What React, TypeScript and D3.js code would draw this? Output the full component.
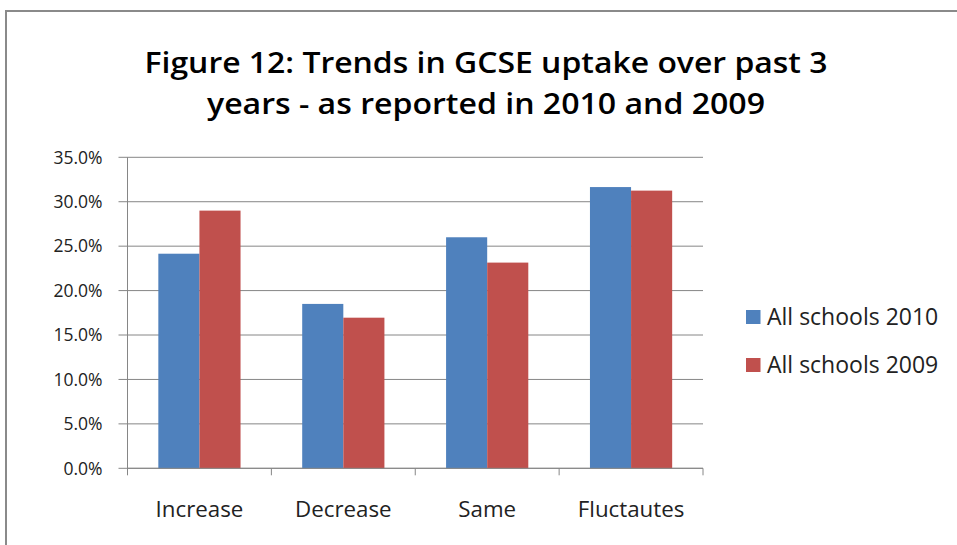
import React from "react";
import * as d3 from "d3";

const categories = ["Increase", "Decrease", "Same", "Fluctautes"];
const seriesNames = ["All schools 2010", "All schools 2009"];
const values2010 = [24.15, 18.5, 26.0, 31.65];
const values2009 = [29.0, 16.95, 23.15, 31.25];
const yTicks = [0, 5, 10, 15, 20, 25, 30, 35];
const colors = ["#4F81BD", "#C0504D"];
const titleLines = ["Figure 12: Trends in GCSE uptake over past 3", "years - as reported in 2010 and 2009"];

export default function App() {
  const W = 957, H = 545;
  const left = 127.5, right = 703, top = 157.3, bottom = 468.3;
  const x = d3.scaleBand<string>().domain(categories).range([left, right]).paddingInner(0).paddingOuter(0);
  const y = d3.scaleLinear().domain([0, 35]).range([bottom, top]);
  const bw = x.bandwidth();
  const barW = bw / 3.5;
  const series = [values2010, values2009];
  const font = "'Open Sans', sans-serif";
  const grid = "#868686";
  const titleWidths = [683, 558];
  return (
    <svg width={W} height={H} style={{ position: "absolute", left: 0, top: 0, background: "#fff" }}>
      <rect x={6} y={11} width={W + 20} height={H + 20} fill="#fff" stroke="#8a8a8a" strokeWidth={2} />
      {titleLines.map((t, i) => (
        <text key={i} x={486} y={73 + i * 41} textAnchor="middle" fontFamily={font} fontWeight={600} fontSize={29}
          textLength={titleWidths[i]} lengthAdjust="spacingAndGlyphs" fill="#000">{t}</text>
      ))}
      {yTicks.map((t) => (
        <g key={t}>
          <line x1={left - 9} x2={right} y1={y(t)} y2={y(t)} stroke={grid} strokeWidth={1} />
          <text x={102.5} y={y(t) + 6.3} textAnchor="end" fontFamily={font} fontSize={17.5} fill="#222">{t.toFixed(1) + "%"}</text>
        </g>
      ))}
      <line x1={left} x2={left} y1={top} y2={bottom + 7} stroke={grid} strokeWidth={1} />
      {categories.map((c, ci) => (
        <g key={c}>
          {series.map((vals, si) => {
            const bx = (x(c) as number) + (bw - 2 * barW) / 2 + si * barW;
            return <rect key={si} x={bx} y={y(vals[ci])} width={barW} height={bottom - y(vals[ci])} fill={colors[si]} />;
          })}
          <line x1={(x(c) as number) + bw} x2={(x(c) as number) + bw} y1={bottom} y2={bottom + 7} stroke={grid} strokeWidth={1} />
          <text x={(x(c) as number) + bw / 2} y={517.3} textAnchor="middle" fontFamily={font} fontSize={22.3} fill="#222">{c}</text>
        </g>
      ))}
      <line x1={left} x2={right} y1={bottom} y2={bottom} stroke={grid} strokeWidth={1} />
      {seriesNames.map((n, i) => (
        <g key={n}>
          <rect x={746} y={310 + i * 48} width={14.5} height={14} fill={colors[i]} />
          <text x={767} y={324.5 + i * 48} fontFamily={font} fontSize={23} fill="#222">{n}</text>
        </g>
      ))}
    </svg>
  );
}
